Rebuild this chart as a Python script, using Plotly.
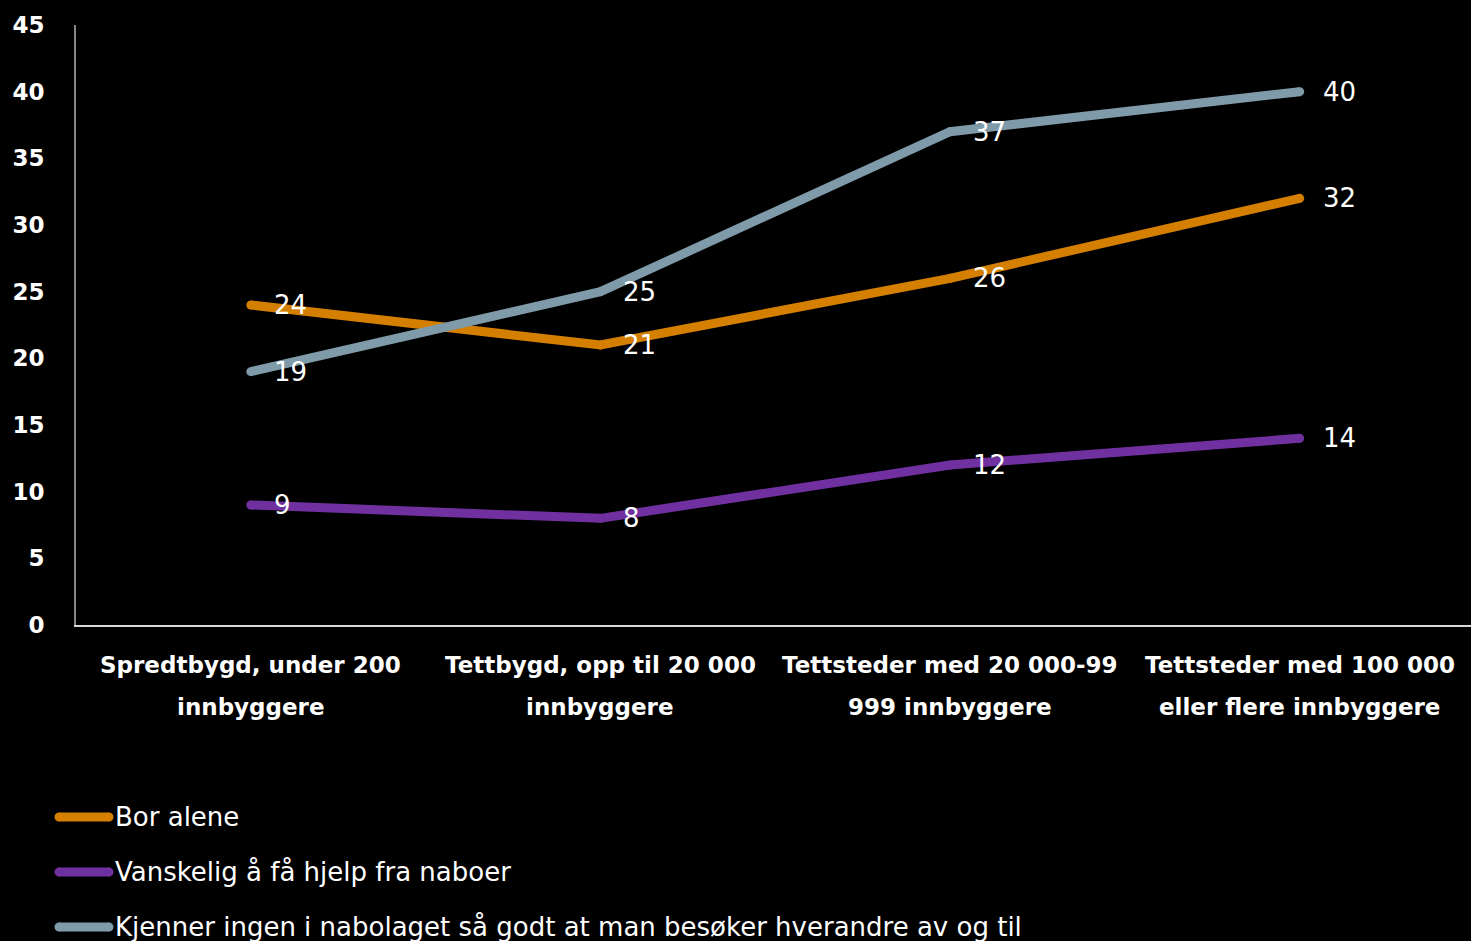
import plotly.graph_objects as go

categories = ["Spredtbygd, under 200<br>innbyggere",
              "Tettbygd, opp til 20 000<br>innbyggere",
              "Tettsteder med 20 000-99<br>999 innbyggere",
              "Tettsteder med 100 000<br>eller flere innbyggere"]
bor_alene = [24, 21, 26, 32]
vanskelig_hjelp = [9, 8, 12, 14]
kjenner_ingen = [19, 25, 37, 40]

series = [
    ("Bor alene", bor_alene, "#D47F00"),
    ("Vanskelig å få hjelp fra naboer", vanskelig_hjelp, "#7030A0"),
    ("Kjenner ingen i nabolaget så godt at man besøker hverandre av og til", kjenner_ingen, "#7F9AA8"),
]

FONT = "DejaVu Sans"
W, H = 1471, 941
top, bottom_px = 25, 625
plot_h = bottom_px - top

xs = list(range(len(categories)))
fig = go.Figure()

for name, vals, color in series:
    fig.add_trace(go.Scatter(x=xs, y=vals, name=name, mode="lines+markers",
                             line=dict(color=color, width=9),
                             marker=dict(color=color, size=9),
                             showlegend=False, hoverinfo="name+y"))
    for i, v in enumerate(vals):
        fig.add_annotation(x=i, y=v, text=str(v), showarrow=False,
                           xanchor="left", yanchor="middle", xshift=21,
                           font=dict(family=FONT, size=26, color="white"))

# category labels, two lines each
for i, c in enumerate(categories):
    for j, part in enumerate(c.split("<br>")):
        fig.add_annotation(x=i, y=0, yref="y", text=part, showarrow=False,
                           xanchor="center", yanchor="middle", yshift=-40 - 42 * j,
                           font=dict(family=FONT, size=23, color="white", weight="bold"))

# legend drawn by hand
for k, (name, vals, color) in enumerate(series):
    ypx = 817 + 55 * k
    yp = (bottom_px - ypx) / plot_h
    fig.add_shape(type="line", xref="paper", yref="paper",
                  x0=(59 - 76) / (W - 76), x1=(109 - 76) / (W - 76), y0=yp, y1=yp,
                  line=dict(color=color, width=9))
    fig.add_shape(type="circle", xref="paper", yref="paper",
                  x0=(54.5 - 76) / (W - 76), x1=(63.5 - 76) / (W - 76),
                  y0=yp - 4.5 / plot_h, y1=yp + 4.5 / plot_h,
                  fillcolor=color, line=dict(width=0))
    fig.add_shape(type="circle", xref="paper", yref="paper",
                  x0=(104.5 - 76) / (W - 76), x1=(113.5 - 76) / (W - 76),
                  y0=yp - 4.5 / plot_h, y1=yp + 4.5 / plot_h,
                  fillcolor=color, line=dict(width=0))
    fig.add_annotation(xref="paper", yref="paper", x=(113 - 76) / (W - 76), y=yp,
                       text=name, showarrow=False, xanchor="left", yanchor="middle",
                       font=dict(family=FONT, size=26, color="white"))

fig.update_layout(
    width=W, height=H,
    paper_bgcolor="black", plot_bgcolor="black",
    margin=dict(l=76, r=0, t=top, b=H - bottom_px),
    font=dict(family=FONT, size=23, color="white"),
    xaxis=dict(range=[-0.5, 3.49], showticklabels=False, showgrid=False, zeroline=False,
               showline=True, linecolor="#D9D9D9", linewidth=2, ticks=""),
    yaxis=dict(range=[0, 45], dtick=5, showgrid=False, zeroline=False,
               showline=True, linecolor="#868686", linewidth=2, ticks="",
               ticklabelstandoff=25,
               tickfont=dict(family=FONT, size=23, color="white", weight="bold")),
)

fig.write_html("out.html", config={"displayModeBar": False},
               post_script="document.body.style.margin='0';document.body.style.background='black';")
